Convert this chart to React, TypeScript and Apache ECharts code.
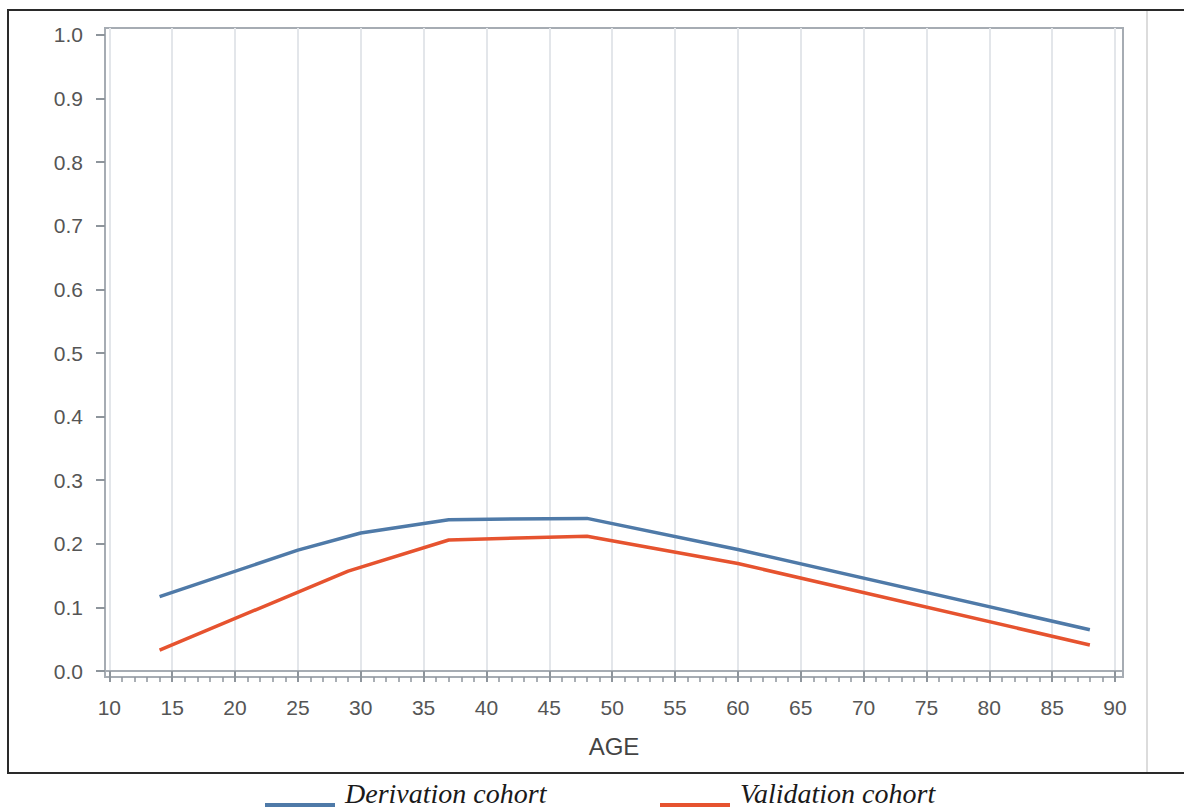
import React, { useEffect, useRef } from "react";
import * as echarts from "echarts";

// ---- data ----
const derivationAges = [14, 25, 30, 37, 48, 60, 88];
const derivationRisk = [0.117, 0.19, 0.217, 0.238, 0.24, 0.191, 0.065];
const validationAges = [14, 29, 37, 48, 60, 88];
const validationRisk = [0.033, 0.157, 0.206, 0.212, 0.169, 0.041];

const xMajorTicks = [10, 15, 20, 25, 30, 35, 40, 45, 50, 55, 60, 65, 70, 75, 80, 85, 90];
const xMinorTicks = [
  11, 12, 13, 14, 16, 17, 18, 19, 21, 22, 23, 24, 26, 27, 28, 29, 31, 32, 33, 34,
  36, 37, 38, 39, 41, 42, 43, 44, 46, 47, 48, 49, 51, 52, 53, 54, 56, 57, 58, 59,
  61, 62, 63, 64, 66, 67, 68, 69, 71, 72, 73, 74, 76, 77, 78, 79, 81, 82, 83, 84,
  86, 87, 88, 89,
];
const yTicks = [0, 0.1, 0.2, 0.3, 0.4, 0.5, 0.6, 0.7, 0.8, 0.9, 1.0];

const seriesNames = ["Derivation cohort", "Validation cohort"];
const seriesColors = ["#4f7aa8", "#e6532f"];

const X_MIN = 9.658;
const X_MAX = 90.636;
const Y_MIN = -0.0094;
const Y_MAX = 1.011;

const SANS = "'Liberation Sans', Arial, sans-serif";
const SERIF = "'Liberation Serif', 'Times New Roman', serif";

function pairs(xs: number[], ys: number[]) {
  return xs.map((x, i) => [x, ys[i]]);
}

function legendEntry(name: string, color: string, lineX: number, textX: number) {
  return [
    {
      type: "rect",
      silent: true,
      shape: { x: lineX, y: 803, width: 70, height: 4 },
      style: { fill: color },
    },
    {
      type: "text",
      silent: true,
      x: textX,
      y: 793,
      style: {
        text: name,
        fontFamily: SERIF,
        fontStyle: "italic",
        fontSize: 28,
        fill: "#1a1a1a",
        verticalAlign: "middle",
        align: "left",
      },
    },
  ];
}

export default function App() {
  const ref = useRef<HTMLDivElement>(null);

  useEffect(() => {
    if (!ref.current) return;
    const chart = echarts.init(ref.current, undefined, { renderer: "svg" });

    chart.setOption({
      animation: false,
      backgroundColor: "#ffffff",
      grid: {
        left: 105,
        right: 61,
        top: 28,
        bottom: 130,
        show: true,
        borderColor: "#a6acb3",
        borderWidth: 2,
        backgroundColor: "transparent",
      },
      xAxis: [
        {
          type: "value",
          min: X_MIN,
          max: X_MAX,
          position: "bottom",
          name: "AGE",
          nameLocation: "middle",
          nameGap: 57,
          nameTextStyle: { fontFamily: SANS, fontSize: 24, color: "#444" },
          axisLine: { show: true, lineStyle: { color: "#a6acb3", width: 2 } },
          axisTick: {
            show: true,
            customValues: xMajorTicks,
            length: 11,
            lineStyle: { color: "#8e959c", width: 2 },
          },
          axisLabel: {
            customValues: xMajorTicks,
            margin: 20,
            fontFamily: SANS,
            fontSize: 21,
            color: "#555",
          },
          splitLine: { show: true, lineStyle: { color: "#e3e6ea", width: 2 } },
        },
        {
          type: "value",
          min: X_MIN,
          max: X_MAX,
          position: "bottom",
          axisLine: { show: false },
          axisTick: {
            show: true,
            customValues: xMinorTicks,
            length: 5,
            lineStyle: { color: "#8e959c", width: 1.5 },
          },
          axisLabel: { show: false },
          splitLine: { show: false },
        },
      ],
      yAxis: {
        type: "value",
        min: Y_MIN,
        max: Y_MAX,
        axisLine: { show: true, lineStyle: { color: "#a6acb3", width: 2 } },
        axisTick: {
          show: true,
          customValues: yTicks,
          length: 9,
          lineStyle: { color: "#8e959c", width: 2 },
        },
        axisLabel: {
          customValues: yTicks,
          margin: 22,
          fontFamily: SANS,
          fontSize: 21,
          color: "#555",
          formatter: (v: number) => v.toFixed(1),
        },
        splitLine: { show: false },
      },
      graphic: [
        {
          type: "rect",
          silent: true,
          z: -10,
          shape: { x: 8, y: 10, width: 1195, height: 763 },
          style: { fill: "none", stroke: "#2a2a2a", lineWidth: 2 },
        },
        {
          type: "line",
          silent: true,
          z: -10,
          shape: { x1: 1147, y1: 11, x2: 1147, y2: 772 },
          style: { stroke: "#dcdcdc", lineWidth: 2 },
        },
        ...legendEntry(seriesNames[0], seriesColors[0], 265, 345),
        ...legendEntry(seriesNames[1], seriesColors[1], 660, 740),
      ],
      series: [
        {
          name: seriesNames[0],
          type: "line",
          xAxisIndex: 0,
          data: pairs(derivationAges, derivationRisk),
          showSymbol: false,
          color: seriesColors[0],
          lineStyle: { color: seriesColors[0], width: 3.5 },
        },
        {
          name: seriesNames[1],
          type: "line",
          xAxisIndex: 0,
          data: pairs(validationAges, validationRisk),
          showSymbol: false,
          color: seriesColors[1],
          lineStyle: { color: seriesColors[1], width: 3.5 },
        },
      ],
    });

    return () => chart.dispose();
  }, []);

  return (
    <div
      ref={ref}
      style={{ position: "absolute", left: 0, top: 0, width: 1184, height: 807 }}
    />
  );
}
